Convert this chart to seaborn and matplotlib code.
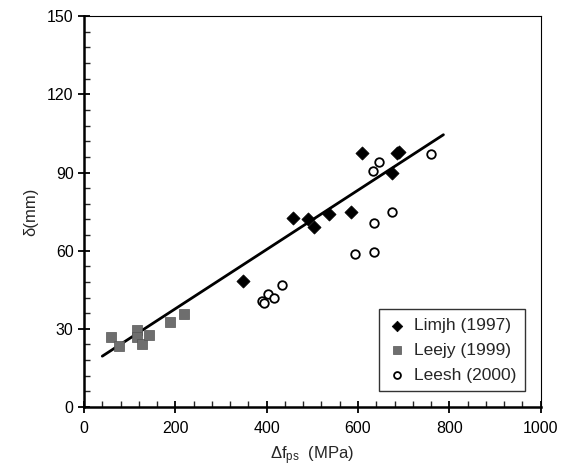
import matplotlib
matplotlib.use("Agg")
import matplotlib.pyplot as plt
import seaborn as sns
import pandas as pd
from matplotlib.ticker import MultipleLocator

# Data
limjh_x = [348, 457, 490, 504, 537, 585, 608, 674, 685, 690]
limjh_y = [48.5, 72.5, 72, 69, 74, 75, 97.5, 90, 97.5, 98]
leejy_x = [60, 77, 115, 117, 126, 143, 188, 219]
leejy_y = [27, 23.5, 29.5, 27, 24, 27.5, 32.5, 35.5]
leesh_x = [390, 394, 403, 415, 434, 594, 635, 635, 675, 632, 645, 760]
leesh_y = [40.5, 40, 43.5, 42, 47, 58.7, 59.5, 70.5, 75, 90.5, 94, 97]
fit_x = [40, 787]
fit_y = [19.5, 104.5]

x_ticks = [0, 200, 400, 600, 800, 1000]
y_ticks = [0, 30, 60, 90, 120, 150]

sns.set_style("white")
plt.rcParams['font.family'] = ['Liberation Sans', 'DejaVu Sans']
plt.rcParams['mathtext.fontset'] = 'custom'
plt.rcParams['mathtext.rm'] = 'Liberation Sans'
plt.rcParams['mathtext.it'] = 'Liberation Sans'

fig = plt.figure(figsize=(5.65, 4.76), dpi=100)
ax = fig.add_axes([0.1487, 0.145, 0.8083, 0.821])

sns.lineplot(x=fit_x, y=fit_y, ax=ax, color='black', linewidth=2.0, zorder=2)
sns.scatterplot(x=limjh_x, y=limjh_y, ax=ax, marker='D', s=45, color='black',
                edgecolor='black', linewidth=0.5, label='Limjh (1997)', zorder=3)
sns.scatterplot(x=leejy_x, y=leejy_y, ax=ax, marker='s', s=42, color='#6e6e6e',
                edgecolor='#555555', linewidth=0.5, label='Leejy (1999)', zorder=3)
sns.scatterplot(x=leesh_x, y=leesh_y, ax=ax, marker='o', s=38, facecolor='white',
                edgecolor='black', linewidth=1.3, label='Leesh (2000)', zorder=3)

ax.set_xlim(0, 1000)
ax.set_ylim(0, 150)
ax.set_xticks(x_ticks)
ax.set_yticks(y_ticks)
ax.xaxis.set_minor_locator(MultipleLocator(40))
ax.yaxis.set_minor_locator(MultipleLocator(6))
ax.tick_params(which='major', direction='inout', length=8, width=1.3, labelsize=11.5, colors='black')
ax.tick_params(which='minor', direction='in', length=4, width=1.0)
ax.tick_params(axis='both', which='both', top=False, right=False, bottom=True, left=True)
ax.tick_params(axis='x', pad=6)

for side in ['left', 'bottom']:
    ax.spines[side].set_linewidth(1.8)
    ax.spines[side].set_color('black')
for side in ['top', 'right']:
    ax.spines[side].set_linewidth(0.8)
    ax.spines[side].set_color('black')

ax.set_xlabel(r'$\Delta$f$_{\mathrm{ps}}$  (MPa)', fontsize=12, labelpad=6)
ax.set_ylabel('δ(mm)', fontsize=12, labelpad=6)

leg = ax.legend(loc='lower right', frameon=True, fancybox=False, fontsize=12.5,
                edgecolor='black', borderpad=0.5, labelspacing=0.55,
                handletextpad=0.5, handlelength=1.0, borderaxespad=0.9,
                markerscale=0.8)
leg.get_frame().set_linewidth(1.0)

fig.savefig('out.png', dpi=100)
